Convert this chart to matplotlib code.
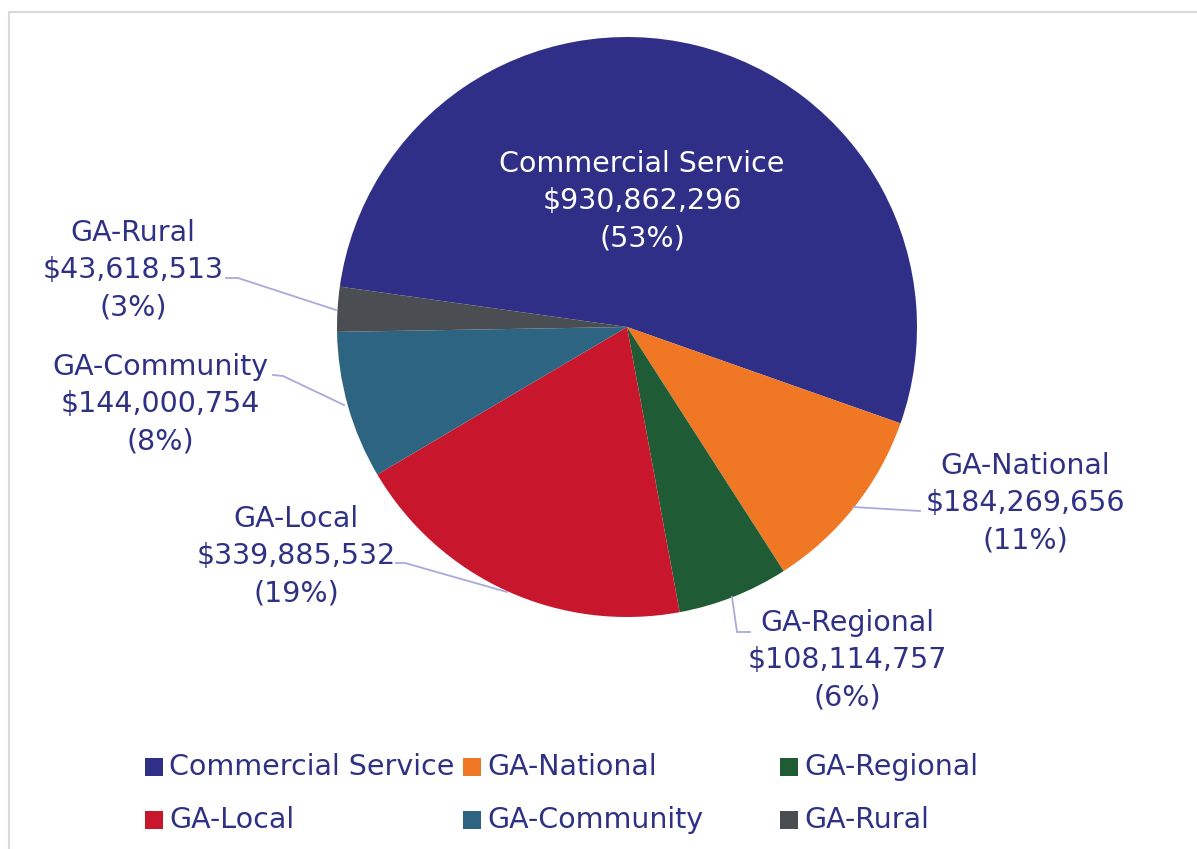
import numpy as np
import matplotlib
matplotlib.use('Agg')
import matplotlib.pyplot as plt
from matplotlib.patches import Rectangle

# data
categories = ['Commercial Service', 'GA-National', 'GA-Regional', 'GA-Local', 'GA-Community', 'GA-Rural']
values = [930862296, 184269656, 108114757, 339885532, 144000754, 43618513]
pct_labels = ['53%', '11%', '6%', '19%', '8%', '3%']
colors = ['#2f2f87', '#f07824', '#1f5c36', '#c8172c', '#2d6482', '#4a4d51']

txt_col = '#2e3184'
line_col = '#a9a9dc'
W, H = 1197, 849

plt.rcParams['font.family'] = ['DejaVu Sans']

fig = plt.figure(figsize=(W / 100, H / 100), dpi=100)
ax = fig.add_axes([0, 0, 1, 1])

# chart frame
ax.add_patch(Rectangle((9, -5), W, H - 12 + 5, fill=False, ec='#d9d9d9', lw=1.5))

cx, cy, r = 627, H - 327, 290
wedges, _ = ax.pie(values, colors=colors, startangle=172.0, counterclock=False,
                   center=(cx, cy), radius=r, frame=True,
                   wedgeprops=dict(linewidth=0))
ax.set_xlim(0, W)
ax.set_ylim(0, H)
ax.set_aspect('equal')
ax.axis('off')

# label positions (pixel coords, y from top)
lab_pos = [(642, 201), (1025, 503), (847, 660), (296, 556), (160, 404), (133, 270)]
for i, (x, y) in enumerate(lab_pos):
    c = 'white' if i == 0 else txt_col
    s = '%s\n$%s\n(%s)' % (categories[i], format(values[i], ','), pct_labels[i])
    ax.text(x, H - y, s, ha='center', va='center', fontsize=20.5, color=c,
            linespacing=1.42)

# leader lines
leaders = [
    None,
    [(853, 507), (920, 511)],
    [(732, 597), (737, 632), (750, 632)],
    [(507, 592), (405, 563), (396, 563)],
    [(344, 405), (283, 376), (273, 375)],
    [(336, 310), (238, 278), (226, 278)],
]
for pts in leaders:
    if pts is None:
        continue
    xs = [p[0] for p in pts]
    ys = [H - p[1] for p in pts]
    ax.plot(xs, ys, color=line_col, lw=1.3)

# legend, 3 equal columns
leg_x = [145, 463, 780]
leg_y = [767, 820]
for i, name in enumerate(categories):
    row, col = divmod(i, 3)
    x0 = leg_x[col]
    y0 = H - leg_y[row]
    ax.add_patch(Rectangle((x0, y0 - 9), 18, 18, color=colors[i], lw=0))
    ax.text(x0 + 24, y0, name, ha='left', va='center', fontsize=20.5, color=txt_col)

fig.savefig('out.png', dpi=100)
